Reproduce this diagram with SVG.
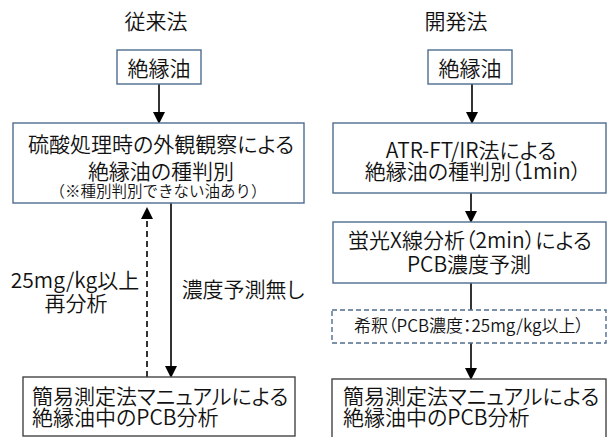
<svg xmlns="http://www.w3.org/2000/svg" width="611" height="437" viewBox="0 0 611 437">
<style>
text{font-family:"Noto Sans CJK JP","Noto Sans CJK SC",sans-serif;fill:#111;font-size:21px;font-weight:350;font-feature-settings:"palt"}
.c{text-anchor:middle}
.s{font-size:15.5px;font-feature-settings:"palt" 0}
.m{font-size:17px}
.b{fill:#fff;stroke:#4d6d8f;stroke-width:1.4}
.g{fill:#fff;stroke:#454545;stroke-width:1.4}
.d{fill:#fff;stroke:#4d6d8f;stroke-width:1.4;stroke-dasharray:5 3}
.a{stroke:#000;stroke-width:1.6;fill:none}
.h{fill:#000}
</style>
<text class="c" x="156" y="29">従来法</text>
<text class="c" x="456" y="29">開発法</text>
<g id="connectors">
<path class="a" d="M159,84 V112"/>
<path class="h" d="M153,112 L165,112 L159,124 Z"/>
<path class="a" d="M147,377 V218" stroke-dasharray="6 4"/>
<path class="h" d="M141,219 L153,219 L147,207 Z"/>
<path class="a" d="M171,203 V366"/>
<path class="h" d="M165,366 L177,366 L171,378 Z"/>
<path class="a" d="M472,84 V112"/>
<path class="h" d="M466,112 L478,112 L472,124 Z"/>
<path class="a" d="M471,193 V211"/>
<path class="h" d="M465,211 L477,211 L471,223 Z"/>
<path class="a" d="M471,283 V310"/>
<path class="a" d="M471,343 V368"/>
<path class="h" d="M465,368 L477,368 L471,380 Z"/>
</g>
<g id="oil-left">
<rect class="b" x="117" y="50" width="84" height="34"/>
<text class="c" x="159" y="76">絶縁油</text>
</g>
<g id="identify-left">
<rect class="b" x="13" y="123" width="291" height="80"/>
<text class="c" x="161" y="152">硫酸処理時の外観観察による</text>
<text class="c" x="161" y="179">絶縁油の種判別</text>
<text class="c s" x="158" y="197">（※種別判別できない油あり）</text>
</g>
<g id="label-reanalyze">
<text class="c" x="75" y="288">25mg/kg以上</text>
<text class="c" x="76" y="311">再分析</text>
</g>
<g id="label-noprediction">
<text class="c" x="243" y="297">濃度予測無し</text>
</g>
<g id="analysis-left">
<rect class="g" x="23" y="377" width="272" height="59"/>
<text x="32" y="404">簡易測定法マニュアルによる</text>
<text x="32" y="425">絶縁油中のPCB分析</text>
</g>
<g id="oil-right">
<rect class="b" x="428" y="50" width="84" height="34"/>
<text class="c" x="470" y="76">絶縁油</text>
</g>
<g id="identify-right">
<rect class="b" x="333" y="123" width="273" height="70"/>
<text class="c" x="471" y="158">ATR-FT/IR法による</text>
<text class="c" x="473" y="179">絶縁油の種判別（1min）</text>
</g>
<g id="xrf">
<rect class="b" x="333" y="222" width="273" height="61"/>
<text class="c" x="470" y="248">蛍光X線分析（2min）による</text>
<text class="c" x="469" y="272">PCB濃度予測</text>
</g>
<g id="dilution">
<rect class="d" x="332" y="310" width="274" height="33"/>
<text class="c m" x="469" y="332">希釈（PCB濃度：25mg/kg以上）</text>
</g>
<g id="analysis-right">
<rect class="g" x="332" y="379" width="274" height="62"/>
<text x="343" y="404">簡易測定法マニュアルによる</text>
<text x="343" y="425">絶縁油中のPCB分析</text>
</g>
</svg>
